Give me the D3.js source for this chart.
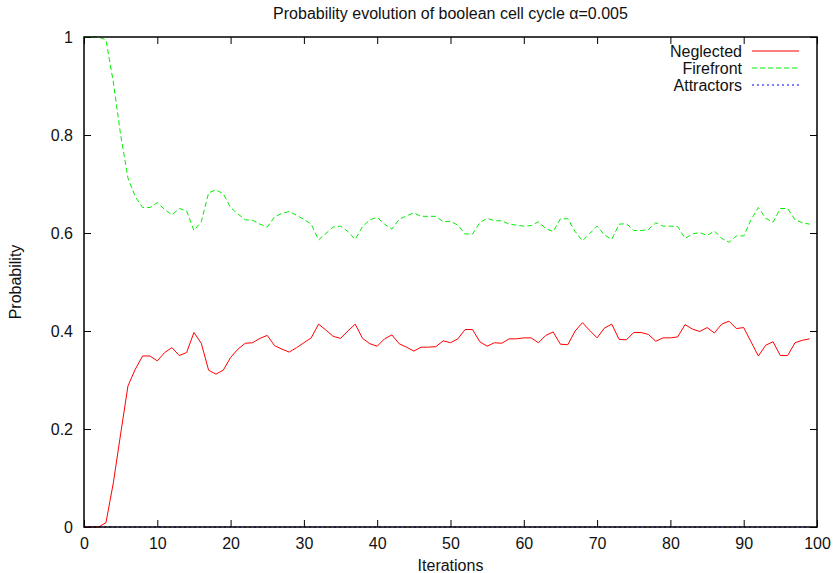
<!DOCTYPE html>
<html>
<head>
<meta charset="utf-8">
<script src="https://cdn.jsdelivr.net/npm/d3@7"></script>
<style>
  body { margin: 0; background: #fff; }
  text { font-family: "Liberation Sans", Arial, sans-serif; fill: #111; }
</style>
</head>
<body>
<div id="chart"></div>
<script>
var svgWidth = 837;
var svgHeight = 573;

var margin = { top: 37, right: 20, bottom: 46, left: 84 };
var width = 817 - margin.left;
var height = 527 - margin.top;

// chart values
var title = "Probability evolution of boolean cell cycle \u03b1=0.005";
var xTicks = [0, 10, 20, 30, 40, 50, 60, 70, 80, 90, 100];
var yTicks = [0, 0.2, 0.4, 0.6, 0.8, 1];
var seriesNames = ["Neglected", "Firefront", "Attractors"];

var neglected = [
  0, 0, 0, 0.009, 0.09, 0.19, 0.288, 0.322, 0.349, 0.349,
  0.339, 0.356, 0.366, 0.350, 0.356, 0.397, 0.375, 0.320, 0.312, 0.320,
  0.346, 0.363, 0.375, 0.376, 0.385, 0.391, 0.370, 0.363, 0.357, 0.366,
  0.376, 0.386, 0.414, 0.402, 0.389, 0.385, 0.400, 0.414, 0.385, 0.374,
  0.369, 0.384, 0.392, 0.374, 0.367, 0.359, 0.367, 0.367, 0.368, 0.380,
  0.376, 0.384, 0.403, 0.403, 0.378, 0.369, 0.376, 0.375, 0.384, 0.384,
  0.386, 0.386, 0.376, 0.391, 0.398, 0.373, 0.372, 0.400, 0.417, 0.401,
  0.386, 0.406, 0.414, 0.383, 0.382, 0.397, 0.397, 0.393, 0.379, 0.386,
  0.386, 0.388, 0.413, 0.404, 0.399, 0.407, 0.396, 0.414, 0.420, 0.405,
  0.407, 0.378, 0.349, 0.371, 0.378, 0.350, 0.350, 0.376, 0.381, 0.384
];

var firefront = [
  1, 1, 1, 0.994, 0.908, 0.80, 0.712, 0.674, 0.652, 0.652,
  0.662, 0.648, 0.637, 0.650, 0.645, 0.605, 0.623, 0.682, 0.688, 0.680,
  0.652, 0.639, 0.627, 0.626, 0.618, 0.612, 0.633, 0.640, 0.644, 0.636,
  0.628, 0.618, 0.586, 0.599, 0.612, 0.614, 0.603, 0.587, 0.613, 0.627,
  0.632, 0.618, 0.608, 0.628, 0.635, 0.641, 0.634, 0.634, 0.634, 0.623,
  0.624, 0.616, 0.598, 0.598, 0.621, 0.630, 0.625, 0.625, 0.618, 0.616,
  0.614, 0.615, 0.623, 0.609, 0.603, 0.629, 0.629, 0.603, 0.584, 0.599,
  0.614, 0.596, 0.587, 0.618, 0.619, 0.605, 0.605, 0.607, 0.621, 0.614,
  0.614, 0.613, 0.589, 0.598, 0.601, 0.595, 0.604, 0.589, 0.581, 0.594,
  0.594, 0.627, 0.652, 0.630, 0.622, 0.650, 0.650, 0.627, 0.621, 0.618
];

var attractors = [
  0, 0, 0, 0, 0, 0, 0, 0, 0, 0,
  0, 0, 0, 0, 0, 0, 0, 0, 0, 0,
  0, 0, 0, 0, 0, 0, 0, 0, 0, 0,
  0, 0, 0, 0, 0, 0, 0, 0, 0, 0,
  0, 0, 0, 0, 0, 0, 0, 0, 0, 0,
  0, 0, 0, 0, 0, 0, 0, 0, 0, 0,
  0, 0, 0, 0, 0, 0, 0, 0, 0, 0,
  0, 0, 0, 0, 0, 0, 0, 0, 0, 0,
  0, 0, 0, 0, 0, 0, 0, 0, 0, 0,
  0, 0, 0, 0, 0, 0, 0, 0, 0, 0
];

var svg = d3.select("#chart")
  .append("svg")
  .attr("width", svgWidth)
  .attr("height", svgHeight);

var chartGroup = svg.append("g")
  .attr("transform", `translate(${margin.left}, ${margin.top})`);

var xScale = d3.scaleLinear().domain([0, 100]).range([0, width]);
var yScale = d3.scaleLinear().domain([0, 1]).range([height, 0]);

// axes with inward ticks, mirrored on top and right like gnuplot
var bottomAxis = d3.axisBottom(xScale).tickValues(xTicks).tickSize(-7).tickPadding(11).tickFormat(d3.format("d"));
var topAxis = d3.axisTop(xScale).tickValues(xTicks).tickSize(-7).tickFormat("");
var leftAxis = d3.axisLeft(yScale).tickValues(yTicks).tickSize(-7).tickPadding(11).tickFormat(d3.format("~g"));
var rightAxis = d3.axisRight(yScale).tickValues(yTicks).tickSize(-7).tickFormat("");

function styleAxis(g) {
  g.select(".domain").remove();
  g.selectAll(".tick line").attr("stroke", "#000").attr("stroke-width", 1);
  g.selectAll(".tick text")
    .attr("font-size", 16)
    .attr("font-family", "'Liberation Sans', Arial, sans-serif")
    .attr("fill", "#111");
}

chartGroup.append("g").attr("transform", `translate(0,${height})`).call(bottomAxis).call(styleAxis);
chartGroup.append("g").call(topAxis).call(styleAxis);
chartGroup.append("g").call(leftAxis).call(styleAxis);
chartGroup.append("g").attr("transform", `translate(${width},0)`).call(rightAxis).call(styleAxis);

// series lines
var line = d3.line()
  .x((d, i) => xScale(i))
  .y(d => yScale(d));

var seriesData = [neglected, firefront, attractors];
var seriesColors = ["#ff0000", "#00ee00", "#0000ff"];
var seriesDash = [null, "5,3", "2,3"];

seriesData.forEach(function(values, k) {
  chartGroup.append("path")
    .datum(values)
    .attr("fill", "none")
    .attr("stroke", seriesColors[k])
    .attr("stroke-width", 1)
    .attr("stroke-dasharray", seriesDash[k])
    .attr("d", line);
});

// frame
chartGroup.append("rect")
  .attr("width", width)
  .attr("height", height)
  .attr("fill", "none")
  .attr("stroke", "#000")
  .attr("stroke-width", 1.5);

// legend
var legend = chartGroup.append("g")
  .attr("transform", `translate(${742 - margin.left}, ${51 - margin.top})`);

seriesNames.forEach(function(name, k) {
  var row = legend.append("g").attr("transform", `translate(0, ${k * 17})`);
  row.append("text")
    .attr("x", 0)
    .attr("y", 0)
    .attr("dy", "0.35em")
    .attr("text-anchor", "end")
    .attr("font-size", 16)
    .text(name);
  row.append("line")
    .attr("x1", 10)
    .attr("x2", 57)
    .attr("y1", 0)
    .attr("y2", 0)
    .attr("stroke", seriesColors[k])
    .attr("stroke-width", 1)
    .attr("stroke-dasharray", seriesDash[k]);
});

// title and axis labels
svg.append("text")
  .attr("x", margin.left + width / 2)
  .attr("y", 19)
  .attr("text-anchor", "middle")
  .attr("font-size", 16)
  .text(title);

svg.append("text")
  .attr("x", margin.left + width / 2)
  .attr("y", 571)
  .attr("text-anchor", "middle")
  .attr("font-size", 16)
  .text("Iterations");

svg.append("text")
  .attr("transform", `translate(21, ${margin.top + height / 2}) rotate(-90)`)
  .attr("text-anchor", "middle")
  .attr("font-size", 16)
  .text("Probability");
</script>
</body>
</html>
